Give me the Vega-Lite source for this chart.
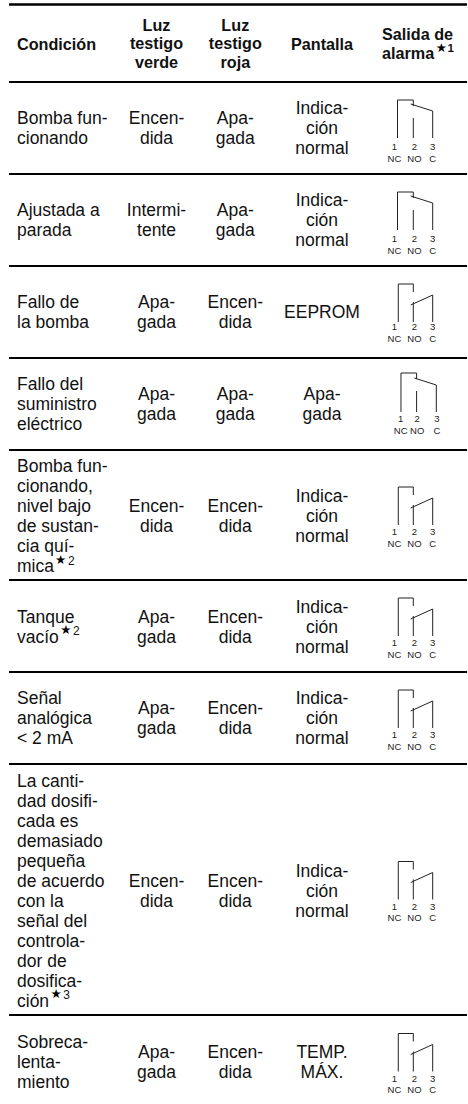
{"$schema":"https://vega.github.io/schema/vega-lite/v6.json","width":468,"height":1104,"padding":0,"autosize":"none","background":"white","view":{"stroke":null},
"encoding":{"x":{"field":"x","type":"quantitative","axis":null,"scale":{"nice":false,"zero":false,"domain":[-1,0,1,2,3,4,5,6,7],"range":[9,17,156.5,235.3,322,397.5,413.3,432.7,467]}},
"y":{"field":"y","type":"quantitative","axis":null,"scale":{"nice":false,"zero":false,"domain":[-500,-36,36,500,955,1045,1500,1955,2045,2500,2955,3045,3500,3955,4045,4500,4936,5064,5500,5955,6045,6500,6955,7045,7500,7875.5,8124.5,8500,8955,9045,9500],"range":[4.5,8.5,80.5,82,83,173,174,175,265,266,267,357,358,359,449,450,451,579,580,581,671,672,673,763,764,765,1014,1015,1016.5,1106.5,1108]}}},
"layer":[
{"data":{"values":[{"x":-1,"x2":7,"y":-500}]},"mark":{"type":"rule","color":"#000","strokeWidth":2.6},"encoding":{"x2":{"field":"x2"}}},
{"data":{"values":[{"x":-1,"x2":7,"y":500},{"x":-1,"x2":7,"y":1500},{"x":-1,"x2":7,"y":2500},{"x":-1,"x2":7,"y":3500},{"x":-1,"x2":7,"y":4500},{"x":-1,"x2":7,"y":5500},{"x":-1,"x2":7,"y":6500},{"x":-1,"x2":7,"y":7500},{"x":-1,"x2":7,"y":8500}]},"mark":{"type":"rule","color":"#000","strokeWidth":2},"encoding":{"x2":{"field":"x2"}}},
{"data":{"values":[
{"x":1,"y":-18.6,"t":"Luz\ntestigo\nverde"},{"x":2,"y":-18.6,"t":"Luz\ntestigo\nroja"},{"x":3,"y":0,"t":"Pantalla"}]},
"mark":{"type":"text","font":"Liberation Sans","fontWeight":"bold","fontSize":16.2,"lineHeight":18.6,"lineBreak":"\n","baseline":"middle","align":"center","color":"#111"},
"encoding":{"text":{"field":"t"}}},
{"data":{"values":[{"x":0,"y":0,"t":"Condición"},{"x":3.795,"y":-9.3,"t":"Salida de\nalarma"}]},"mark":{"type":"text","font":"Liberation Sans","fontWeight":"bold","fontSize":16.2,"lineHeight":18.6,"lineBreak":"\n","baseline":"middle","align":"left","color":"#111"},"encoding":{"text":{"field":"t"}}},
{"data":{"values":[
{"x":0,"y":990,"t":"Bomba fun-\ncionando"},{"x":0,"y":1990,"t":"Ajustada a\nparada"},{"x":0,"y":2990,"t":"Fallo de\nla bomba"},{"x":0,"y":3980,"t":"Fallo del\nsuministro\neléctrico"},{"x":0,"y":4951,"t":"Bomba fun-\ncionando,\nnivel bajo\nde sustan-\ncia quí-\nmica"},{"x":0,"y":5991,"t":"Tanque\nvacío"},{"x":0,"y":6980,"t":"Señal\nanalógica\n< 2 mA"},{"x":0,"y":7891,"t":"La canti-\ndad dosifi-\ncada es\ndemasiado\npequeña\nde acuerdo\ncon la\nseñal del\ncontrola-\ndor de\ndosifica-\nción"},{"x":0,"y":8980,"t":"Sobreca-\nlenta-\nmiento"}]},
"mark":{"type":"text","font":"Liberation Sans","fontSize":17.5,"lineHeight":20,"lineBreak":"\n","baseline":"middle","align":"left","color":"#111","yOffset":1},"encoding":{"text":{"field":"t"}}},
{"data":{"values":[
{"x":1,"y":990,"t":"Encen-\ndida"},{"x":2,"y":990,"t":"Apa-\ngada"},{"x":3,"y":980,"t":"Indica-\nción\nnormal"},
{"x":1,"y":1990,"t":"Intermi-\ntente"},{"x":2,"y":1990,"t":"Apa-\ngada"},{"x":3,"y":1980,"t":"Indica-\nción\nnormal"},
{"x":1,"y":2990,"t":"Apa-\ngada"},{"x":2,"y":2990,"t":"Encen-\ndida"},{"x":3,"y":3000,"t":"EEPROM"},
{"x":1,"y":3990,"t":"Apa-\ngada"},{"x":2,"y":3990,"t":"Apa-\ngada"},{"x":3,"y":3990,"t":"Apa-\ngada"},
{"x":1,"y":4991,"t":"Encen-\ndida"},{"x":2,"y":4991,"t":"Encen-\ndida"},{"x":3,"y":4981,"t":"Indica-\nción\nnormal"},
{"x":1,"y":5991,"t":"Apa-\ngada"},{"x":2,"y":5991,"t":"Encen-\ndida"},{"x":3,"y":5981,"t":"Indica-\nción\nnormal"},
{"x":1,"y":6990,"t":"Apa-\ngada"},{"x":2,"y":6990,"t":"Encen-\ndida"},{"x":3,"y":6980,"t":"Indica-\nción\nnormal"},
{"x":1,"y":7991,"t":"Encen-\ndida"},{"x":2,"y":7991,"t":"Encen-\ndida"},{"x":3,"y":7981,"t":"Indica-\nción\nnormal"},
{"x":1,"y":8990,"t":"Apa-\ngada"},{"x":2,"y":8990,"t":"Encen-\ndida"},{"x":3,"y":8990,"t":"TEMP.\nMÁX."}]},
"mark":{"type":"text","font":"Liberation Sans","fontSize":17.5,"lineHeight":20,"lineBreak":"\n","baseline":"middle","align":"center","color":"#111","yOffset":1},"encoding":{"text":{"field":"t"}}},
{"data":{"values":[{"x":6.25,"y":3,"t":"★"},{"x":0.313,"y":5045,"t":"★"},{"x":0.351,"y":6004,"t":"★"},{"x":0.28,"y":8104,"t":"★"}]},"mark":{"type":"text","font":"DejaVu Sans","fontSize":12.5,"baseline":"middle","align":"center","color":"#000"},"encoding":{"text":{"field":"t"}}},
{"data":{"values":[{"x":0.389,"y":5046,"t":"2"},{"x":0.425,"y":6005,"t":"2"},{"x":0.356,"y":8105,"t":"3"}]},"mark":{"type":"text","font":"Liberation Sans","fontSize":12,"baseline":"middle","align":"center","color":"#111"},"encoding":{"text":{"field":"t"}}},
{"data":{"values":[{"x":6.525,"y":4,"t":"1"}]},"mark":{"type":"text","font":"Liberation Sans","fontWeight":"bold","fontSize":11.5,"baseline":"middle","align":"center","color":"#111"},"encoding":{"text":{"field":"t"}}},
{"data":{"values":[
{"x":4,"x2":4,"y":972,"y2":1010},{"x":4,"x2":5,"y":972,"y2":972},{"x":5,"x2":5,"y":972,"y2":978},{"x":4.835,"x2":6,"y":976,"y2":983},{"x":6,"x2":6,"y":983,"y2":1010},{"x":5,"x2":5,"y":990,"y2":1010},
{"x":4,"x2":4,"y":1972,"y2":2010},{"x":4,"x2":5,"y":1972,"y2":1972},{"x":5,"x2":5,"y":1972,"y2":1978},{"x":4.835,"x2":6,"y":1976,"y2":1983},{"x":6,"x2":6,"y":1983,"y2":2010},{"x":5,"x2":5,"y":1990,"y2":2010},
{"x":4.05,"x2":4.05,"y":2972,"y2":3010},{"x":4.05,"x2":5,"y":2972,"y2":2972},{"x":5,"x2":5,"y":2972,"y2":2980},{"x":4.835,"x2":6,"y":2993,"y2":2983},{"x":6,"x2":6,"y":2983,"y2":3010},{"x":5,"x2":5,"y":2990,"y2":3010},
{"x":4.22,"x2":4.22,"y":3969,"y2":4008},{"x":4.22,"x2":5.17,"y":3969,"y2":3969},{"x":5.17,"x2":5.17,"y":3969,"y2":3975},{"x":5.05,"x2":6.105,"y":3974,"y2":3981},{"x":6.105,"x2":6.105,"y":3981,"y2":4008},{"x":5.17,"x2":5.17,"y":3987,"y2":4008},
{"x":4.05,"x2":4.05,"y":4972,"y2":5010},{"x":4.05,"x2":5,"y":4972,"y2":4972},{"x":5,"x2":5,"y":4972,"y2":4980},{"x":4.835,"x2":6,"y":4993,"y2":4983},{"x":6,"x2":6,"y":4983,"y2":5010},{"x":5,"x2":5,"y":4990,"y2":5010},
{"x":4.05,"x2":4.05,"y":5972,"y2":6010},{"x":4.05,"x2":5,"y":5972,"y2":5972},{"x":5,"x2":5,"y":5972,"y2":5980},{"x":4.835,"x2":6,"y":5993,"y2":5983},{"x":6,"x2":6,"y":5983,"y2":6010},{"x":5,"x2":5,"y":5990,"y2":6010},
{"x":4.05,"x2":4.05,"y":6972,"y2":7010},{"x":4.05,"x2":5,"y":6972,"y2":6972},{"x":5,"x2":5,"y":6972,"y2":6980},{"x":4.835,"x2":6,"y":6993,"y2":6983},{"x":6,"x2":6,"y":6983,"y2":7010},{"x":5,"x2":5,"y":6990,"y2":7010},
{"x":4.05,"x2":4.05,"y":7972,"y2":8010},{"x":4.05,"x2":5,"y":7972,"y2":7972},{"x":5,"x2":5,"y":7972,"y2":7980},{"x":4.835,"x2":6,"y":7993,"y2":7983},{"x":6,"x2":6,"y":7983,"y2":8010},{"x":5,"x2":5,"y":7990,"y2":8010},
{"x":4.05,"x2":4.05,"y":8972,"y2":9010},{"x":4.05,"x2":5,"y":8972,"y2":8972},{"x":5,"x2":5,"y":8972,"y2":8980},{"x":4.835,"x2":6,"y":8993,"y2":8983},{"x":6,"x2":6,"y":8983,"y2":9010},{"x":5,"x2":5,"y":8990,"y2":9010}]},
"mark":{"type":"rule","color":"#222","strokeWidth":1},"encoding":{"x2":{"field":"x2"},"y2":{"field":"y2"}}},
{"data":{"values":[
{"x":3.96,"y":1019,"t":"1\nNC"},{"x":5.06,"y":1019,"t":"2\nNO"},{"x":6,"y":1019,"t":"3\nC"},
{"x":3.96,"y":2019,"t":"1\nNC"},{"x":5.06,"y":2019,"t":"2\nNO"},{"x":6,"y":2019,"t":"3\nC"},
{"x":3.96,"y":3015,"t":"1\nNC"},{"x":5.06,"y":3015,"t":"2\nNO"},{"x":6,"y":3015,"t":"3\nC"},
{"x":4.2,"y":4015,"t":"1\nNC"},{"x":5.2,"y":4015,"t":"2\nNO"},{"x":6.12,"y":4015,"t":"3\nC"},
{"x":3.96,"y":5017,"t":"1\nNC"},{"x":5.06,"y":5017,"t":"2\nNO"},{"x":6,"y":5017,"t":"3\nC"},
{"x":3.96,"y":6017,"t":"1\nNC"},{"x":5.06,"y":6017,"t":"2\nNO"},{"x":6,"y":6017,"t":"3\nC"},
{"x":3.96,"y":7017,"t":"1\nNC"},{"x":5.06,"y":7017,"t":"2\nNO"},{"x":6,"y":7017,"t":"3\nC"},
{"x":3.96,"y":8017,"t":"1\nNC"},{"x":5.06,"y":8017,"t":"2\nNO"},{"x":6,"y":8017,"t":"3\nC"},
{"x":3.96,"y":9017,"t":"1\nNC"},{"x":5.06,"y":9017,"t":"2\nNO"},{"x":6,"y":9017,"t":"3\nC"}]},
"mark":{"type":"text","font":"Liberation Sans","fontSize":9.5,"lineHeight":11.7,"lineBreak":"\n","baseline":"middle","align":"center","color":"#222"},"encoding":{"text":{"field":"t"}}}
]}
